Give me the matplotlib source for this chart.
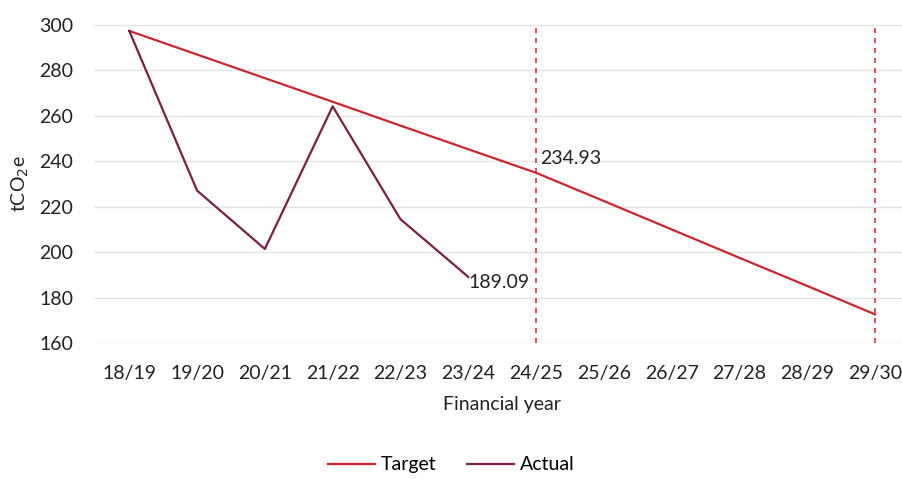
import matplotlib
matplotlib.use("Agg")
import matplotlib.pyplot as plt

years = ["18/19", "19/20", "20/21", "21/22", "22/23", "23/24",
         "24/25", "25/26", "26/27", "27/28", "28/29", "29/30"]
target = [297.4, 287.0, 276.6, 266.2, 255.7, 245.3, 234.93,
          222.5, 210.0, 197.5, 185.1, 172.6]
actual = [297.4, 227.1, 201.4, 264.2, 214.5, 189.09]
target_markers = ["24/25", "29/30"]
label_target = "234.93"
label_actual = "189.09"

plt.rcParams['font.family'] = ['Lato', 'DejaVu Sans']
FS = 14

fig = plt.figure(figsize=(9.03, 4.79), dpi=100)
ax = fig.add_axes([94/903, 1-343/479, 815/903, 318/479])

x = list(range(len(years)))
ax.plot(x, target, color="#C8272E", lw=1.6, label="Target", zorder=3)
ax.plot(x[:len(actual)], actual, color="#7A1F45", lw=1.6, label="Actual", zorder=4)

for m in target_markers:
    i = years.index(m)
    ax.axvline(i, color="#D0373D", lw=1.2, ls=(0, (3, 3)), zorder=2)

ax.set_xlim(-0.52, 11.5)
ax.set_ylim(160, 300)
ax.set_yticks(range(160, 301, 20))
ax.set_xticks(x)
ax.set_xticklabels(years)
ax.grid(axis="y", color="#E3E3E3", lw=1)
ax.set_axisbelow(True)
for s in ax.spines.values():
    s.set_visible(False)
ax.tick_params(axis="x", length=0, labelsize=FS, colors="#222222", pad=16)
ax.tick_params(axis="y", length=0, labelsize=FS, colors="#222222", pad=15)

i_t = years.index("24/25")
ax.annotate(label_target, (i_t, target[i_t]), xytext=(3, 4), textcoords="offset points",
            fontsize=FS, color="#222222", ha="left", va="bottom")
i_a = len(actual) - 1
ax.annotate(label_actual, (i_a, actual[i_a]), xytext=(0, -4), textcoords="offset points",
            fontsize=FS, color="#222222", ha="left", va="center")

ax.set_xlabel("Financial year", fontsize=FS, color="#222222", labelpad=10)
ax.set_ylabel("tCO$_2$e", fontsize=FS, color="#222222", labelpad=6)

fig.legend(loc="lower center", bbox_to_anchor=(0.5, -0.025), ncol=2, frameon=False,
           fontsize=FS, handlelength=2.4, handletextpad=0.3, columnspacing=1.6)

fig.savefig("out.png", dpi=100)
